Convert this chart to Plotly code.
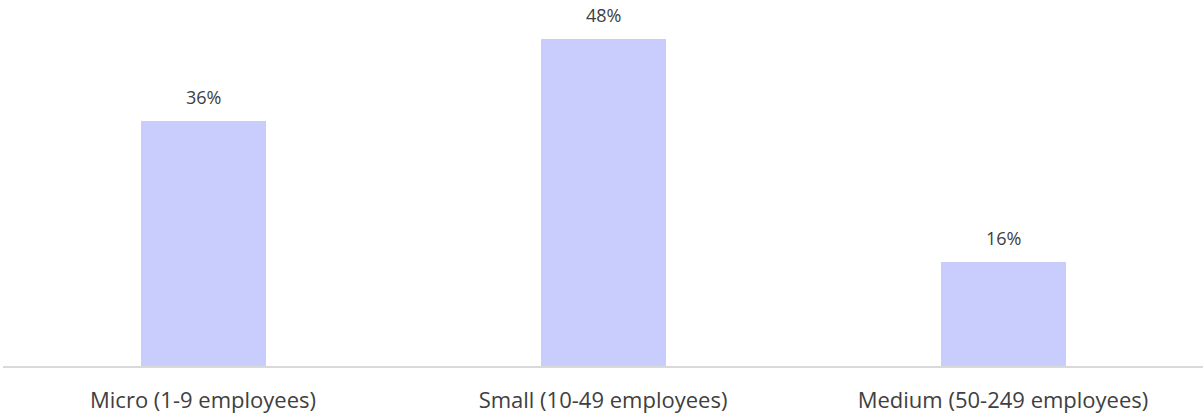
import plotly.graph_objects as go

categories = ["Micro (1-9 employees)", "Small (10-49 employees)", "Medium (50-249 employees)"]
values = [36.0, 48.0, 15.3]
value_labels = ["36%", "48%", "16%"]

fig = go.Figure()
fig.add_trace(go.Bar(
    x=categories, y=values,
    marker=dict(color="#c8cdfd", line=dict(width=0)),
    width=0.3125,
    hoverinfo="skip",
))
for c, v, t in zip(categories, values, value_labels):
    fig.add_annotation(x=c, y=v, text=t, showarrow=False, yshift=24, yanchor="middle",
                       font=dict(family="Open Sans", size=18, color="#404040"))

fig.update_layout(
    width=1203, height=414,
    margin=dict(l=3, r=0, t=0, b=48),
    plot_bgcolor="white", paper_bgcolor="white",
    showlegend=False,
    bargap=0,
    font=dict(family="Open Sans", size=22, color="#404040"),
)
fig.update_xaxes(showline=True, linecolor="#d9d9d9", linewidth=2, ticks="",
                 tickfont=dict(family="Open Sans", size=22, color="#404040"),
                 ticklabelstandoff=14, showgrid=False)
fig.update_yaxes(range=[0, 53.74], visible=False, showgrid=False)

fig.write_html("out.html")
